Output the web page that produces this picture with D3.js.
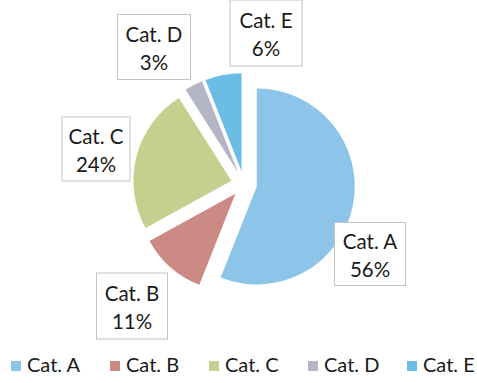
<!DOCTYPE html>
<html>
<head>
<meta charset="utf-8">
<script src="https://cdn.jsdelivr.net/npm/d3@7"></script>
<style>
  html, body { margin: 0; padding: 0; background: #fff; }
  svg { display: block; }
  text { font-family: Lato, "Open Sans", sans-serif; fill: #1a1a1a; }
</style>
</head>
<body>
<svg id="chart" width="477" height="383"></svg>
<script>
// Share of each category, in percent
const categories = ["Cat. A", "Cat. B", "Cat. C", "Cat. D", "Cat. E"];
const shares = [56, 11, 24, 3, 6];
const colors = ["#8dc4ea", "#cb8a84", "#c3d08e", "#b4b6c8", "#6cbde6"];

const W = 477, H = 383;
const cx = 244, cy = 184, radius = 98, explode = 13;
const fontSize = 20.5;

// Label callout boxes (centre, width, height) for each slice
const labelBoxes = {
  "Cat. A": { x: 370, y: 254, w: 71, h: 63 },
  "Cat. B": { x: 132, y: 306, w: 71, h: 66 },
  "Cat. C": { x: 96,  y: 149, w: 68, h: 64 },
  "Cat. D": { x: 154, y: 47,  w: 73, h: 65 },
  "Cat. E": { x: 266, y: 33,  w: 72, h: 66 }
};

const svg = d3.select("#chart");
const color = d3.scaleOrdinal().domain(categories).range(colors);

const pie = d3.pie().sort(null).value(d => d.value);
const arcs = pie(categories.map((c, i) => ({ name: c, value: shares[i] })));
const arc = d3.arc().innerRadius(0).outerRadius(radius);

const g = svg.append("g").attr("transform", `translate(${cx},${cy})`);

// Exploded slices: each one pushed out along its mid angle
g.selectAll("path.slice")
  .data(arcs)
  .join("path")
  .attr("class", "slice")
  .attr("d", arc)
  .attr("fill", d => color(d.data.name))
  .attr("transform", d => {
    const a = (d.startAngle + d.endAngle) / 2;
    return `translate(${explode * Math.sin(a)},${-explode * Math.cos(a)})`;
  });

// Leader line from slice A to its callout
{
  const d = arcs[0];
  const a = (d.startAngle + d.endAngle) / 2;
  const ox = cx + explode * Math.sin(a), oy = cy - explode * Math.cos(a);
  const la = 2.1;
  const px = ox + radius * Math.sin(la), py = oy - radius * Math.cos(la);
  const b = labelBoxes["Cat. A"];
  svg.append("path")
    .attr("d", `M${px},${py} L${b.x - b.w / 2},${b.y - b.h / 2}`)
    .attr("stroke", "#c8c8c8").attr("fill", "none").attr("stroke-width", 1);
}

// Callout labels
const labels = svg.selectAll("g.label")
  .data(arcs)
  .join("g")
  .attr("class", "label")
  .attr("transform", d => `translate(${labelBoxes[d.data.name].x},${labelBoxes[d.data.name].y})`);

labels.append("rect")
  .attr("x", d => -labelBoxes[d.data.name].w / 2)
  .attr("y", d => -labelBoxes[d.data.name].h / 2)
  .attr("width", d => labelBoxes[d.data.name].w)
  .attr("height", d => labelBoxes[d.data.name].h)
  .attr("fill", "#fff")
  .attr("stroke", "#c4c4c4")
  .attr("stroke-width", 1);

labels.append("text")
  .attr("text-anchor", "middle")
  .attr("y", -5)
  .attr("font-size", fontSize)
  .text(d => d.data.name);

labels.append("text")
  .attr("text-anchor", "middle")
  .attr("y", 22.5)
  .attr("font-size", fontSize)
  .text(d => d.data.value + "%");

// Legend
const legendX = d3.scalePoint().domain(categories).range([11, 407]);
const legend = svg.selectAll("g.legend")
  .data(categories)
  .join("g")
  .attr("class", "legend")
  .attr("transform", d => `translate(${legendX(d)},361)`);

legend.append("rect")
  .attr("width", 10).attr("height", 10)
  .attr("fill", d => color(d));

legend.append("text")
  .attr("x", 16).attr("y", 11)
  .attr("font-size", 20)
  .text(d => d);
</script>
</body>
</html>
